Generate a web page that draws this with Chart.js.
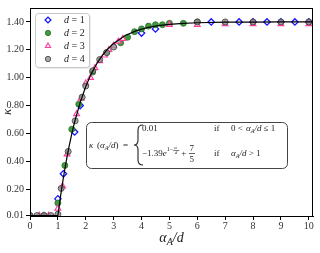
<!DOCTYPE html>
<html>
<head>
<meta charset="utf-8">
<script src="https://cdn.jsdelivr.net/npm/chart.js@4/dist/chart.umd.min.js"></script>
<style>
  html, body { margin: 0; padding: 0; background: #fff; }
  canvas { display: block; }
</style>
</head>
<body>
<canvas id="kappaChart" width="320" height="253"></canvas>
<script>
// tick labels
const xTicks = [0, 1, 2, 3, 4, 5, 6, 7, 8, 9, 10]
const yTicks = [0.01, 0.2, 0.4, 0.6, 0.8, 1.0, 1.2, 1.4]

// d = 1
const d1X = [0, 0.5, 1.0, 1.2, 1.6, 1.8, 4.0, 4.5, 6.5, 7.5, 8.0, 8.5, 9.0, 9.5, 10.0]
const d1Y = [0.01, 0.01, 0.13, 0.31, 0.61, 0.80, 1.32, 1.35, 1.40, 1.40, 1.40, 1.40, 1.40, 1.40, 1.40]
// d = 2
const d2X = [0, 0.5, 1.0, 1.25, 1.5, 1.75, 2.25, 2.75, 3.25, 3.5, 3.75, 4.0, 4.25, 4.5, 4.75, 5.0, 5.5, 6.0]
const d2Y = [0.01, 0.01, 0.10, 0.37, 0.63, 0.81, 1.04, 1.18, 1.25, 1.29, 1.33, 1.35, 1.37, 1.38, 1.38, 1.39, 1.39, 1.40]
// d = 3
const d3X = [0, 0.33, 0.67, 1.0, 1.17, 1.33, 1.67, 1.83, 2.0, 2.17, 2.33, 2.5, 2.67, 2.83, 3.0, 3.17, 3.33, 5.0, 6.0, 7.0, 8.0, 9.0, 10.0]
const d3Y = [0.01, 0.01, 0.01, 0.06, 0.22, 0.45, 0.74, 0.85, 0.96, 1.00, 1.07, 1.12, 1.16, 1.20, 1.23, 1.26, 1.28, 1.38, 1.38, 1.385, 1.385, 1.385, 1.385]
// d = 4
const d4X = [0, 0.25, 0.5, 0.75, 1.0, 1.12, 1.37, 1.62, 1.87, 2.0, 2.25, 2.5, 2.75, 3.0, 6.0, 7.0, 8.0, 9.0, 10.0]
const d4Y = [0.01, 0.01, 0.01, 0.01, 0.02, 0.205, 0.47, 0.69, 0.86, 0.94, 1.05, 1.13, 1.18, 1.22, 1.40, 1.40, 1.40, 1.40, 1.40]

// fitted curve
const fitX = [0, 1.0, 1.1, 1.2, 1.3, 1.4, 1.5, 1.6, 1.8, 2.0, 2.2, 2.4, 2.6, 2.8, 3.0, 3.4, 3.8, 4.2, 4.6, 5.0, 5.5, 6.0, 7.0, 8.0, 9.0, 10.2]
const fitY = [0.01, 0.01, 0.155, 0.285, 0.401, 0.505, 0.598, 0.682, 0.823, 0.937, 1.029, 1.102, 1.161, 1.208, 1.246, 1.301, 1.336, 1.359, 1.374, 1.383, 1.390, 1.394, 1.398, 1.399, 1.40, 1.40]

const legendLabels = ["1", "2", "3", "4"]

const SERIF = "'Liberation Serif', 'DejaVu Serif', serif"

function pts(xs, ys) {
  return xs.map((x, i) => ({ x: x, y: ys[i] }))
}

const markerStyles = [
  { pointStyle: "rectRot", radius: 3.2, fill: "#ffffff", stroke: "#1515ff", width: 1.3 },
  { pointStyle: "circle", radius: 3, fill: "#3e9b3e", stroke: "#2c6f2c", width: 0.8 },
  { pointStyle: "triangle", radius: 3.3, fill: "rgba(255,255,255,0.6)", stroke: "#ff3fa0", width: 1.2 },
  { pointStyle: "circle", radius: 3, fill: "rgba(140,140,140,0.75)", stroke: "#4a4a4a", width: 0.9 },
]

function scatterSet(xs, ys, m, order) {
  return {
    type: "scatter",
    data: pts(xs, ys),
    pointStyle: m.pointStyle,
    pointRadius: m.radius,
    pointBackgroundColor: m.fill,
    pointBorderColor: m.stroke,
    pointBorderWidth: m.width,
    showLine: false,
    order: order,
  }
}

// draw "α_A/d" style text with a subscript
function drawAlphaOverD(ctx, x, y, size, align) {
  const big = "italic " + size + "px " + SERIF
  const small = "italic " + Math.round(size * 0.7) + "px " + SERIF
  ctx.font = big
  const wA = ctx.measureText("α").width
  ctx.font = small
  const wSub = ctx.measureText("A").width
  ctx.font = big
  const wRest = ctx.measureText("/d").width
  const total = wA + wSub + wRest
  let sx = x
  if (align === "center") sx = x - total / 2
  ctx.textAlign = "left"
  ctx.font = big
  ctx.fillText("α", sx, y)
  ctx.font = small
  ctx.fillText("A", sx + wA, y + size * 0.22)
  ctx.font = big
  ctx.fillText("/d", sx + wA + wSub, y)
  return sx + total
}

const decorPlugin = {
  id: "decor",
  afterDatasetsDraw(chart) {
    const ctx = chart.ctx
    const a = chart.chartArea
    ctx.save()
    // frame
    ctx.strokeStyle = "#000"
    ctx.lineWidth = 1
    ctx.strokeRect(a.left + 0.5, a.top + 0.5, a.right - a.left - 1, a.bottom - a.top)

    // legend box
    const lx = 35, ly = 13, lw = 54, lh = 54
    ctx.fillStyle = "rgba(0,0,0,0.15)"
    ctx.beginPath()
    ctx.roundRect(lx + 1.5, ly + 1.5, lw, lh, 3)
    ctx.fill()
    ctx.fillStyle = "#fff"
    ctx.strokeStyle = "#c8c8c8"
    ctx.beginPath()
    ctx.roundRect(lx + 0.5, ly + 0.5, lw, lh, 3)
    ctx.fill()
    ctx.stroke()
    legendLabels.forEach((lab, i) => {
      const m = markerStyles[i]
      const cy = 20 + i * 13
      ctx.fillStyle = m.fill
      ctx.strokeStyle = m.stroke
      ctx.lineWidth = m.width
      Chart.helpers.drawPoint(ctx, { pointStyle: m.pointStyle, radius: m.radius * 0.9, borderWidth: m.width }, 48, cy)
      ctx.fillStyle = "#222"
      ctx.textBaseline = "middle"
      ctx.textAlign = "left"
      ctx.font = "italic 10px " + SERIF
      ctx.fillText("d", 64, cy)
      ctx.font = "10px " + SERIF
      ctx.fillText(" = " + lab, 69, cy)
    })

    // formula box
    const bx = 86, by = 122, bw = 201, bh = 46
    ctx.fillStyle = "#fff"
    ctx.strokeStyle = "#444"
    ctx.lineWidth = 1
    ctx.beginPath()
    ctx.roundRect(bx + 0.5, by + 0.5, bw, bh, 5)
    ctx.fill()
    ctx.stroke()

    ctx.fillStyle = "#222"
    ctx.textBaseline = "alphabetic"
    ctx.textAlign = "left"
    // left side
    ctx.font = "italic 9px " + SERIF
    ctx.fillText("κ", 89, 148)
    ctx.font = "9px " + SERIF
    ctx.fillText("(", 97, 148)
    let ex = drawAlphaOverD(ctx, 100, 148, 9, "left")
    ctx.font = "9px " + SERIF
    ctx.fillText(")  =", ex, 148)

    // brace
    ctx.strokeStyle = "#222"
    ctx.lineWidth = 1.1
    ctx.beginPath()
    ctx.moveTo(143, 125)
    ctx.quadraticCurveTo(138, 125, 138, 130)
    ctx.lineTo(138, 140)
    ctx.quadraticCurveTo(138, 145, 134, 145)
    ctx.quadraticCurveTo(138, 145, 138, 150)
    ctx.lineTo(138, 160)
    ctx.quadraticCurveTo(138, 165, 143, 165)
    ctx.stroke()

    // row 1
    ctx.font = "9px " + SERIF
    ctx.fillText("0.01", 142, 131)
    ctx.fillText("if", 214, 131)
    ctx.fillText("0 <", 231, 131)
    ex = drawAlphaOverD(ctx, 246, 131, 9, "left")
    ctx.font = "9px " + SERIF
    ctx.fillText(" ≤ 1", ex, 131)

    // row 2
    ctx.font = "9px " + SERIF
    ctx.fillText("−1.39", 142, 156)
    let w = ctx.measureText("−1.39").width
    ctx.font = "italic 9px " + SERIF
    ctx.fillText("e", 142 + w, 156)
    w += ctx.measureText("e").width
    ctx.font = "6px " + SERIF
    ctx.fillText("1−", 142 + w, 151)
    w += ctx.measureText("1−").width
    ctx.font = "italic 5px " + SERIF
    ctx.fillText("α", 142 + w + 1, 149)
    ctx.fillText("d", 142 + w + 1.5, 154)
    ctx.beginPath()
    ctx.lineWidth = 0.6
    ctx.moveTo(142 + w, 150.5)
    ctx.lineTo(142 + w + 6, 150.5)
    ctx.stroke()
    w += 8
    ctx.font = "9px " + SERIF
    ctx.fillText("+", 142 + w, 156)
    w += ctx.measureText("+ ").width + 1
    ctx.fillText("7", 142 + w, 151)
    ctx.fillText("5", 142 + w, 162)
    ctx.beginPath()
    ctx.lineWidth = 0.7
    ctx.moveTo(142 + w - 0.5, 153.5)
    ctx.lineTo(142 + w + 5.5, 153.5)
    ctx.stroke()
    ctx.fillText("if", 214, 156)
    ex = drawAlphaOverD(ctx, 231, 156, 9, "left")
    ctx.font = "9px " + SERIF
    ctx.fillText(" > 1", ex, 156)

    // axis titles
    ctx.fillStyle = "#222"
    ctx.textBaseline = "alphabetic"
    drawAlphaOverD(ctx, (a.left + a.right) / 2, 242, 14, "center")
    ctx.save()
    ctx.translate(11, (a.top + a.bottom) / 2)
    ctx.rotate(-Math.PI / 2)
    ctx.font = "italic 13px " + SERIF
    ctx.textAlign = "center"
    ctx.fillText("κ", 0, 0)
    ctx.restore()

    ctx.restore()
  },
}

const config = {
  data: {
    datasets: [
      {
        type: "line",
        data: pts(fitX, fitY),
        borderColor: "#000",
        borderWidth: 1.2,
        pointRadius: 0,
        tension: 0,
        order: 0,
      },
      scatterSet(d4X, d4Y, markerStyles[3], 1),
      scatterSet(d3X, d3Y, markerStyles[2], 2),
      scatterSet(d2X, d2Y, markerStyles[1], 3),
      scatterSet(d1X, d1Y, markerStyles[0], 4),
    ],
  },
  options: {
    responsive: false,
    animation: false,
    devicePixelRatio: 1,
    layout: { padding: { top: 7, right: 7, left: 0, bottom: 0 } },
    plugins: {
      legend: { display: false },
      tooltip: { enabled: false },
    },
    scales: {
      x: {
        type: "linear",
        min: 0,
        max: 10.15,
        afterBuildTicks: scale => {
          scale.ticks = xTicks.map(v => ({ value: v }))
        },
        afterFit: scale => {
          scale.height = 37
        },
        ticks: {
          color: "#333",
          font: { family: SERIF, size: 10 },
          padding: 0,
          maxRotation: 0,
          callback: v => String(v),
        },
        grid: { drawOnChartArea: false, drawTicks: true, tickLength: 4, color: "#000" },
        border: { display: true, color: "#000" },
      },
      y: {
        type: "linear",
        min: 0.007,
        max: 1.5,
        afterBuildTicks: scale => {
          scale.ticks = yTicks.map(v => ({ value: v }))
        },
        afterFit: scale => {
          scale.width = 30
        },
        ticks: {
          color: "#333",
          font: { family: SERIF, size: 10 },
          padding: 2,
          callback: v => v.toFixed(2),
        },
        grid: { drawOnChartArea: false, drawTicks: true, tickLength: 4, color: "#000" },
        border: { display: true, color: "#000" },
      },
    },
  },
  plugins: [decorPlugin],
}

new Chart(document.getElementById("kappaChart"), config)
</script>
</body>
</html>
